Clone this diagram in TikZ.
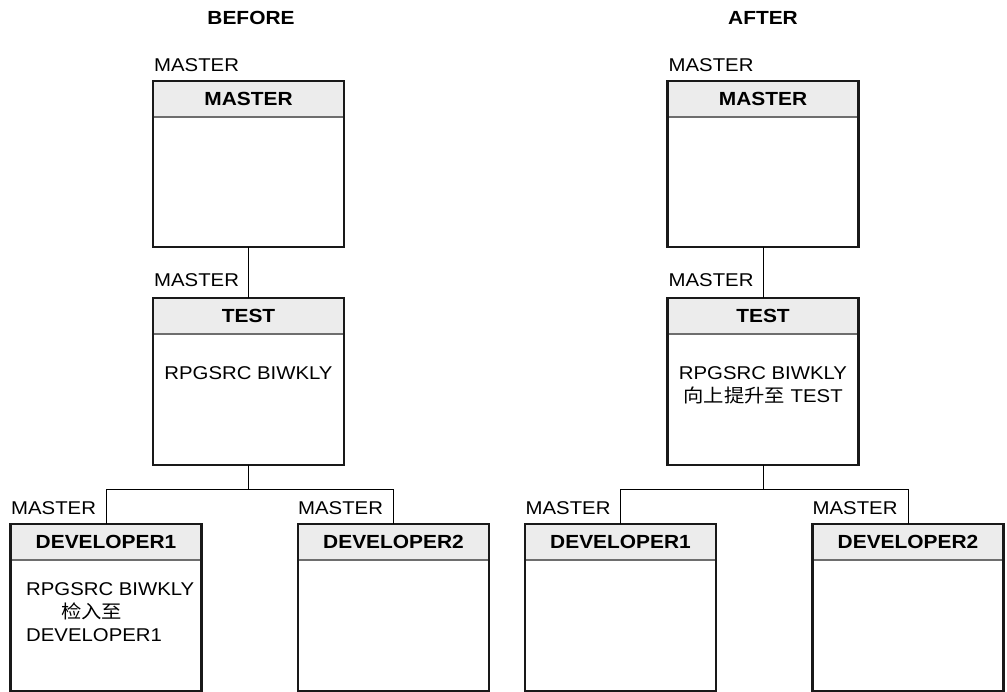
\documentclass[tikz,border=0pt]{standalone}
\usepackage{fontspec}
\setmainfont{Liberation Sans}[FakeStretch=1.1]
\newfontfamily\cjk{Noto Sans CJK SC}[FakeStretch=1.1]
\definecolor{hdrgray}{RGB}{236,236,236}
\definecolor{sepgray}{RGB}{110,110,110}
\tikzset{
  box/.style={draw=none, minimum width=191pt, inner sep=0pt, outer sep=0pt},
  hdr/.style={fill=hdrgray, minimum width=191pt, minimum height=36pt, inner sep=0pt, outer sep=0pt, anchor=north, font=\fontsize{19}{22}\selectfont\bfseries},
  lbl/.style={anchor=base west, inner sep=0pt, font=\fontsize{18.5}{22}\selectfont},
  txt/.style={inner sep=0pt, font=\fontsize{18.5}{22}\selectfont},
  ttl/.style={inner sep=0pt, font=\fontsize{19}{22}\selectfont\bfseries},
  conn/.style={line width=1pt, draw=black},
  border/.style={line width=2.4pt, draw=black!90},
  sepline/.style={line width=1.2pt, draw=sepgray}
}
\newcommand\mkbox[4]{%
  \node[box, minimum height=#3pt] (#1) at (#2) {};
  \node[hdr] (#1h) at (#1.north) {#4};
  \draw[sepline] (#1h.south west) -- (#1h.south east);
  \draw[border] (#1.north west) rectangle (#1.south east);
}
\begin{document}
\begin{tikzpicture}[x=1pt,y=-1pt]
\useasboundingbox (0,0) rectangle (1007,692);
% titles
\node[ttl] (tb) at (251,18) {BEFORE};
\node[ttl] (ta) at (763,18) {AFTER};
% BEFORE side
\mkbox{lm}{248.5,164}{166}{MASTER}
\mkbox{lt}{248.5,381.5}{167}{TEST}
\mkbox{ldA}{106,607.5}{167}{DEVELOPER1}
\mkbox{ldB}{393.5,607.5}{167}{DEVELOPER2}
% AFTER side
\mkbox{rm}{763,164}{166}{MASTER}
\mkbox{rt}{763,381.5}{167}{TEST}
\mkbox{rdA}{620.5,607.5}{167}{DEVELOPER1}
\mkbox{rdB}{908,607.5}{167}{DEVELOPER2}
% connectors
\draw[conn] (lm.south) -- (lt.north);
\coordinate (lj) at (248.5,489.5);
\draw[conn] (lt.south) -- (lj);
\draw[conn] (ldA.north) |- (lj) -| (ldB.north);
\draw[conn] (rm.south) -- (rt.north);
\coordinate (rj) at (763,489.5);
\draw[conn] (rt.south) -- (rj);
\draw[conn] (rdA.north) |- (rj) -| (rdB.north);
% MASTER labels
\node[lbl] (llm) at (154,72) {MASTER};
\node[lbl] (llt) at (154,287) {MASTER};
\node[lbl] (llA) at (11,514) {MASTER};
\node[lbl] (llB) at (298,514) {MASTER};
\node[lbl] (lrm) at (668.5,72) {MASTER};
\node[lbl] (lrt) at (668.5,287) {MASTER};
\node[lbl] (lrA) at (525.5,514) {MASTER};
\node[lbl] (lrB) at (812.5,514) {MASTER};
% body texts
\node[txt, anchor=base] (ltx) at (248.5,380) {RPGSRC BIWKLY};
\node[txt, anchor=base] (rtx1) at (763,380) {RPGSRC BIWKLY};
\node[txt, anchor=base] (rtx2) at (763,403) {{\cjk 向上提升至} TEST};
\node[txt, anchor=base west] (dA1) at (26,595) {RPGSRC BIWKLY};
\node[txt, anchor=base west] (dA2) at (61,618) {\cjk 检入至};
\node[txt, anchor=base west] (dA3) at (26,641) {DEVELOPER1};
\end{tikzpicture}
\end{document}
